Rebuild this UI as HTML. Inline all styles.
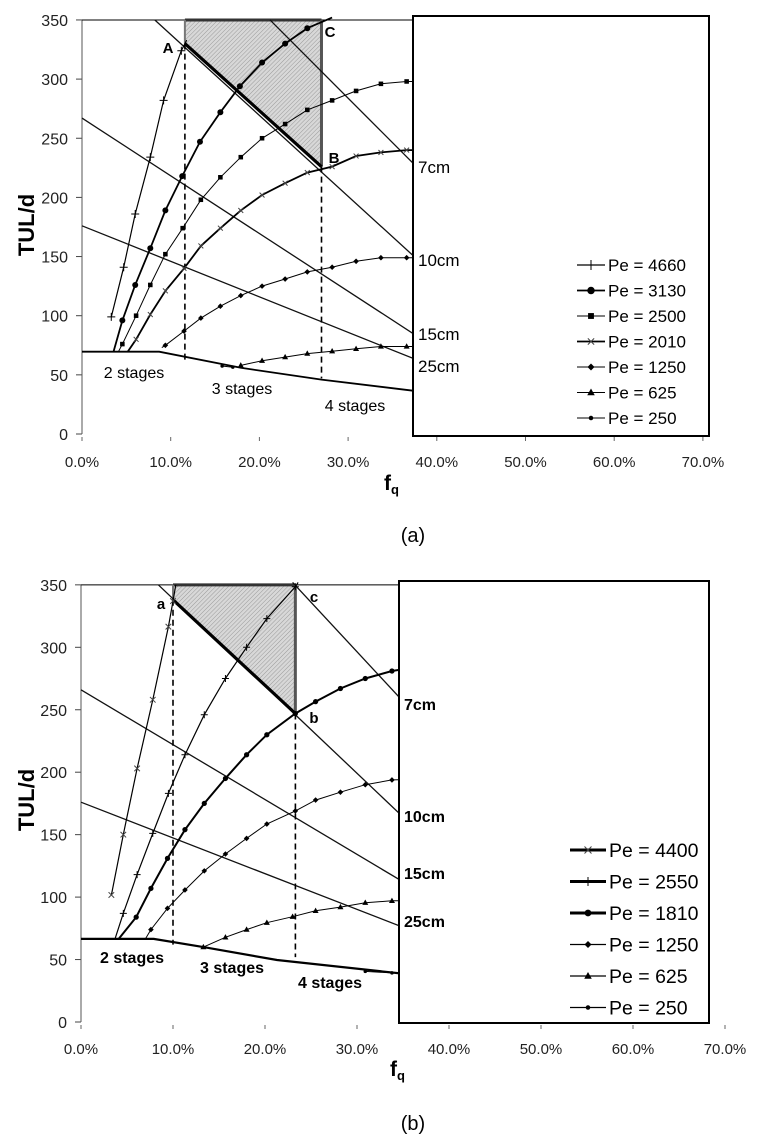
<!DOCTYPE html>
<html><head><meta charset="utf-8">
<style>
html,body{margin:0;padding:0;background:#fff;}
svg{display:block;font-family:"Liberation Sans",Arial,sans-serif;}
</style></head>
<body>
<svg id="fig" width="762" height="1142" viewBox="0 0 762 1142">
<defs>
<pattern id="hatch" patternUnits="userSpaceOnUse" width="3" height="3" patternTransform="rotate(45)">
<rect width="3" height="3" fill="#d8d8d8"/><line x1="0" y1="0" x2="0" y2="3" stroke="#9a9a9a" stroke-width="1"/>
</pattern>
<clipPath id="clipA"><rect x="60" y="0" width="353" height="436"/></clipPath>
<clipPath id="clipB"><rect x="60" y="570" width="339" height="453"/></clipPath>
</defs>
<g id="chartA"></g>
<g id="chartB"></g>
</svg>
<script>
// ---------- Data: chart (a) ----------
const yTicks = [0,50,100,150,200,250,300,350];
const xTicks = [0,10,20,30,40,50,60,70];
const xTickLabels = ["0.0%","10.0%","20.0%","30.0%","40.0%","50.0%","60.0%","70.0%"];
const aStages = [[0,69.6],[8.7,69.6],[17.9,56],[27,46],[37.3,36.6]];
const aPe4660 = [[3.3,99],[4.7,141],[6.0,186],[7.7,234],[9.2,282],[11.2,324],[11.8,333]];
const aPe3130 = [[3.55,69.6],[4.55,96],[6.0,126],[7.7,157],[9.4,189],[11.3,218],[13.3,247],[15.6,272],[17.8,294],[20.3,314],[22.9,330],[25.4,343],[28.2,352]];
const aPe2500 = [[4.1,69.6],[4.55,76],[6.1,100],[7.7,126],[9.4,152],[11.35,174],[13.4,198],[15.6,217],[17.9,234],[20.3,250],[22.9,262],[25.4,274],[28.2,282],[30.9,290],[33.7,296],[36.6,298],[37.3,298]];
const aPe2010 = [[5.15,69.6],[6.1,80],[7.7,101],[9.4,121],[11.5,140],[13.4,159],[15.6,174],[17.9,189],[20.3,202],[22.9,212],[25.4,221],[28.2,226],[30.9,235],[33.7,238],[36.6,240],[37.3,240]];
const aPe1250 = [[9.0,73],[9.4,75],[11.5,87],[13.4,98],[15.6,108],[17.9,117],[20.3,125],[22.9,131],[25.4,137],[28.2,141],[30.9,146],[33.7,149],[36.6,149],[37.3,149]];
const aPe625 = [[17.9,58],[20.3,62],[22.9,65],[25.4,68],[28.2,70],[30.9,72],[33.7,74],[36.6,74],[37.3,74]];
const aPe250 = [[15.8,57.5],[17.0,56.5]];
const aLine7 = [[21.2,350],[37.3,229]];
const aLine10 = [[8.2,350],[37.3,151]];
const aLine15 = [[0,267],[37.3,85]];
const aLine25 = [[0,176],[37.3,64]];
const aRegion = [[11.6,350],[11.6,330],[27.0,226],[27.0,350]];
const aDashA = [[11.6,330],[11.6,62]];
const aDashB = [[27.0,226],[27.0,47]];

// ---------- Data: chart (b) ----------
const bStages = [[0,66.5],[7.9,66.5],[13.3,60],[21.3,49.6],[34.6,39]];
const bPe4400 = [[3.3,101.7],[4.6,150],[6.1,203],[7.8,258],[9.5,316.5],[10.0,337],[10.3,350]];
const bPe2550 = [[3.7,66.5],[4.6,87],[6.1,118],[7.8,151],[9.5,183],[11.3,214],[13.4,246],[15.7,275],[18.0,300],[20.2,323],[23.3,348.5],[23.6,352]];
const bPe1810 = [[4.1,66.5],[6.0,84],[7.6,107],[9.4,131],[11.3,154],[13.4,175],[15.7,195],[18.0,214],[20.2,230],[23.3,247],[25.5,256.5],[28.2,267],[30.9,275],[33.8,281],[34.6,282]];
const bPe1250 = [[7.0,66.5],[7.6,74],[9.4,91],[11.3,105.7],[13.4,121],[15.7,134.5],[18.0,147],[20.2,158.5],[23.3,169],[25.5,177.7],[28.2,184],[30.9,190],[33.8,193.8],[34.6,194]];
const bPe625 = [[13.3,60],[15.7,67.8],[18.0,74],[20.2,79.5],[23.0,84.3],[25.5,89],[28.2,92],[30.9,95.5],[33.8,97],[34.6,97]];
const bPe250 = [[30.9,40.5],[33.8,39.3]];
const bLine7 = [[23.0,352],[34.6,260]];
const bLine10 = [[8.4,350],[34.6,167]];
const bLine15 = [[0,266],[34.6,114]];
const bLine25 = [[0,176],[34.6,77]];
const bRegion = [[10.0,350],[10.0,338],[23.3,247],[23.3,350]];
const bDashA = [[10.0,338],[10.0,62]];
const bDashB = [[23.3,247],[23.3,52]];

const NS = "http://www.w3.org/2000/svg";
function mk(parent, tag, attrs){
  const e = document.createElementNS(NS, tag);
  for (const k in attrs) e.setAttribute(k, attrs[k]);
  parent.appendChild(e);
  return e;
}
function marker(g, kind, x, y, s){
  let e;
  if (kind === "plus") { e = mk(g,"path",{d:`M${x-s} ${y}H${x+s}M${x} ${y-s}V${y+s}`,stroke:"#000","stroke-width":1,fill:"none"}); }
  else if (kind === "circle") { e = mk(g,"circle",{cx:x,cy:y,r:s*0.75,fill:"#000"}); }
  else if (kind === "dot") { e = mk(g,"circle",{cx:x,cy:y,r:s*0.5,fill:"#000"}); }
  else if (kind === "square") { e = mk(g,"rect",{x:x-s*0.65,y:y-s*0.65,width:s*1.3,height:s*1.3,fill:"#000"}); }
  else if (kind === "x") { e = mk(g,"path",{d:`M${x-s*0.7} ${y-s*0.7}L${x+s*0.7} ${y+s*0.7}M${x-s*0.7} ${y+s*0.7}L${x+s*0.7} ${y-s*0.7}`,stroke:"#444","stroke-width":1,fill:"none"}); }
  else if (kind === "diamond") { e = mk(g,"path",{d:`M${x} ${y-s*0.7}L${x+s*0.7} ${y}L${x} ${y+s*0.7}L${x-s*0.7} ${y}Z`,fill:"#000"}); }
  else if (kind === "tri") { e = mk(g,"path",{d:`M${x} ${y-s*0.8}L${x+s*0.75} ${y+s*0.55}L${x-s*0.75} ${y+s*0.55}Z`,fill:"#000"}); }
  return e;
}

function drawChart(cfg){
  const root = document.getElementById(cfg.id);
  const X = p => cfg.x0 + p*cfg.kx;
  const Y = v => cfg.y0 - v*cfg.ky;
  const pts = arr => arr.map(d => X(d[0]).toFixed(1)+","+Y(d[1]).toFixed(1)).join(" ");

  yTicks.forEach(v => {
    const t = mk(root,"text",{x:cfg.x0-14,y:Y(v)+6,"text-anchor":"end","font-size":16,fill:"#222"});
    t.textContent = v;
    
    
    mk(root,"line",{x1:cfg.x0-6,x2:cfg.x0,y1:Y(v),y2:Y(v),stroke:"#444","stroke-width":1});
  });
  xTicks.forEach((p,i) => {
    const t = mk(root,"text",{x:X(p),y:cfg.xLabY,"text-anchor":"middle","font-size":15,fill:"#222"});
    t.textContent = xTickLabels[i];
    
    
    mk(root,"line",{x1:X(p),x2:X(p),y1:Y(0)+3,y2:Y(0)+7,stroke:"#666","stroke-width":1});
  });
  mk(root,"line",{x1:cfg.x0,x2:cfg.x0,y1:Y(350),y2:Y(0),stroke:"#555","stroke-width":1});
  mk(root,"line",{x1:cfg.x0,x2:cfg.boxX,y1:Y(350),y2:Y(350),stroke:"#000","stroke-width":1});

  const yt = mk(root,"text",{x:0,y:0,transform:`translate(${cfg.ytX},${cfg.ytY}) rotate(-90)`,"text-anchor":"middle","font-size":22,"font-weight":"bold"});
  yt.textContent = "TUL/d";
  
  
  const xt = mk(root,"text",{x:cfg.fqX,y:cfg.fqY,"font-size":21,"font-weight":"bold"});
  xt.textContent = "f";
  const sub = mk(xt,"tspan",{"font-size":13,dy:4});
  sub.textContent = "q";
  
  
  const cap = mk(root,"text",{x:cfg.capX,y:cfg.capY,"text-anchor":"middle","font-size":20});
  cap.textContent = cfg.caption;
  
  

  const plot = mk(root,"g",{"clip-path":`url(#${cfg.clip})`});
  
  

  const reg = mk(plot,"polygon",{points:pts(cfg.region),fill:"url(#hatch)",stroke:"none"});
  
  
  const r = cfg.region;
  mk(plot,"line",{x1:X(r[0][0]),y1:Y(350),x2:X(r[3][0]),y2:Y(350),stroke:"#333","stroke-width":3});
  mk(plot,"line",{x1:X(r[3][0]),y1:Y(r[3][1]),x2:X(r[2][0]),y2:Y(r[2][1]),stroke:"#555","stroke-width":3});
  mk(plot,"line",{x1:X(r[0][0]),y1:Y(r[0][1]),x2:X(r[1][0]),y2:Y(r[1][1]),stroke:"#777","stroke-width":2});

  cfg.lines.forEach(L => {
    const l = mk(plot,"polyline",{points:pts(L.d),fill:"none",stroke:"#111","stroke-width":1.3});
    
    
  });
  mk(plot,"line",{x1:X(r[1][0]),y1:Y(r[1][1]),x2:X(r[2][0]),y2:Y(r[2][1]),stroke:"#000","stroke-width":3.2});
  const st = mk(plot,"polyline",{points:pts(cfg.stages),fill:"none",stroke:"#000","stroke-width":cfg.stageW});
  
  
  [cfg.dashA,cfg.dashB].forEach(d => {
    const l = mk(plot,"polyline",{points:pts(d),fill:"none",stroke:"#000","stroke-width":1.6,"stroke-dasharray":"6,4"});
    
    
  });
  cfg.series.forEach(S => {
    const g = mk(plot,"g",{});
    
    
    mk(g,"polyline",{points:pts(S.d),fill:"none",stroke:"#000","stroke-width":S.w});
    S.d.forEach((d,i) => {
      if (i===0 && S.skipFirst) return;
      if (i===S.d.length-1 && S.skipLast) return;
      marker(g,S.m,X(d[0]),Y(d[1]),S.s);
    });
  });

  cfg.pointLabels.forEach(P => {
    const t = mk(root,"text",{x:P[1],y:P[2],"font-size":15,"font-weight":"bold","text-anchor":"middle"});
    t.textContent = P[0];
    
    
  });
  cfg.stageLabels.forEach(P => {
    const t = mk(root,"text",{x:P[1],y:P[2],"font-size":16,"font-weight":cfg.stageBold,"text-anchor":"middle"});
    t.textContent = P[0];
    
    
  });

  const box = mk(root,"rect",{x:cfg.boxX,y:cfg.boxY,width:cfg.boxW,height:cfg.boxH,fill:"none",stroke:"#000","stroke-width":2});
  
  
  cfg.cmLabels.forEach(P => {
    const t = mk(root,"text",{x:cfg.boxX+5,y:P[1],"font-size":cfg.cmFs,"font-weight":cfg.cmBold});
    t.textContent = P[0];
    
    
  });
  cfg.series.forEach((S,i) => {
    const y = cfg.legY + i*cfg.legDy;
    const g = mk(root,"g",{});
    
    
    mk(g,"line",{x1:cfg.legX,x2:cfg.legX+cfg.legLen,y1:y,y2:y,stroke:"#000","stroke-width":S.lw});
    marker(g,S.m,cfg.legX+cfg.legLen/2,y,S.s+1);
    const t = mk(g,"text",{x:cfg.legX+cfg.legLen+3,y:y+cfg.legFs*0.36,"font-size":cfg.legFs});
    t.textContent = "Pe = "+S.name;
  });
}

drawChart({
  id:"chartA", clip:"clipA", x0:82, kx:8.87, y0:434, ky:1.183, xLabY:467,
  ytX:34, ytY:225, fqX:384, fqY:490, capX:413, capY:542, caption:"(a)",
  boxX:413, boxY:16, boxW:296, boxH:420,
  region:aRegion, dashA:aDashA, dashB:aDashB, stages:aStages, stageW:1.8,
  lines:[{name:"7cm",d:aLine7},{name:"10cm",d:aLine10},{name:"15cm",d:aLine15},{name:"25cm",d:aLine25}],
  series:[
    {name:"4660",d:aPe4660,m:"plus",s:4,w:1.2,lw:1.2,skipLast:true},
    {name:"3130",d:aPe3130,m:"circle",s:4,w:1.8,lw:1.8,skipFirst:true,skipLast:true},
    {name:"2500",d:aPe2500,m:"square",s:3.5,w:1,lw:1,skipFirst:true,skipLast:true},
    {name:"2010",d:aPe2010,m:"x",s:3.5,w:1.8,lw:1.8,skipFirst:true,skipLast:true},
    {name:"1250",d:aPe1250,m:"diamond",s:4,w:1,lw:1,skipFirst:true,skipLast:true},
    {name:"625",d:aPe625,m:"tri",s:4,w:1,lw:1,skipLast:true},
    {name:"250",d:aPe250,m:"dot",s:3.5,w:1,lw:1}
  ],
  pointLabels:[["A",168,53],["C",330,37],["B",334,163]],
  stageLabels:[["2 stages",134,378],["3 stages",242,394],["4 stages",355,411]], stageBold:"normal",
  cmLabels:[["7cm",173],["10cm",266],["15cm",340],["25cm",372]], cmBold:"normal", cmFs:17,
  legX:577, legLen:28, legY:265, legDy:25.5, legFs:17
});

drawChart({
  id:"chartB", clip:"clipB", x0:81, kx:9.2, y0:1022, ky:1.249, xLabY:1054,
  ytX:34, ytY:800, fqX:390, fqY:1076, capX:413, capY:1130, caption:"(b)",
  boxX:399, boxY:581, boxW:310, boxH:442,
  region:bRegion, dashA:bDashA, dashB:bDashB, stages:bStages, stageW:2.2,
  lines:[{name:"7cm",d:bLine7},{name:"10cm",d:bLine10},{name:"15cm",d:bLine15},{name:"25cm",d:bLine25}],
  series:[
    {name:"4400",d:bPe4400,m:"x",s:4,w:1.2,lw:3,skipLast:true},
    {name:"2550",d:bPe2550,m:"plus",s:3.5,w:1.2,lw:3,skipFirst:true,skipLast:true},
    {name:"1810",d:bPe1810,m:"circle",s:3.5,w:2,lw:3,skipFirst:true,skipLast:true},
    {name:"1250",d:bPe1250,m:"diamond",s:4,w:1,lw:1.3,skipFirst:true,skipLast:true},
    {name:"625",d:bPe625,m:"tri",s:4,w:1,lw:1.3,skipLast:true},
    {name:"250",d:bPe250,m:"dot",s:3.5,w:1,lw:1.3}
  ],
  pointLabels:[["a",161,609],["c",314,602],["b",314,723]],
  stageLabels:[["2 stages",132,963],["3 stages",232,973],["4 stages",330,988]], stageBold:"bold",
  cmLabels:[["7cm",710],["10cm",822],["15cm",879],["25cm",927]], cmBold:"bold", cmFs:16,
  legX:570, legLen:36, legY:850, legDy:31.5, legFs:19.5
});
</script>
</body></html>
